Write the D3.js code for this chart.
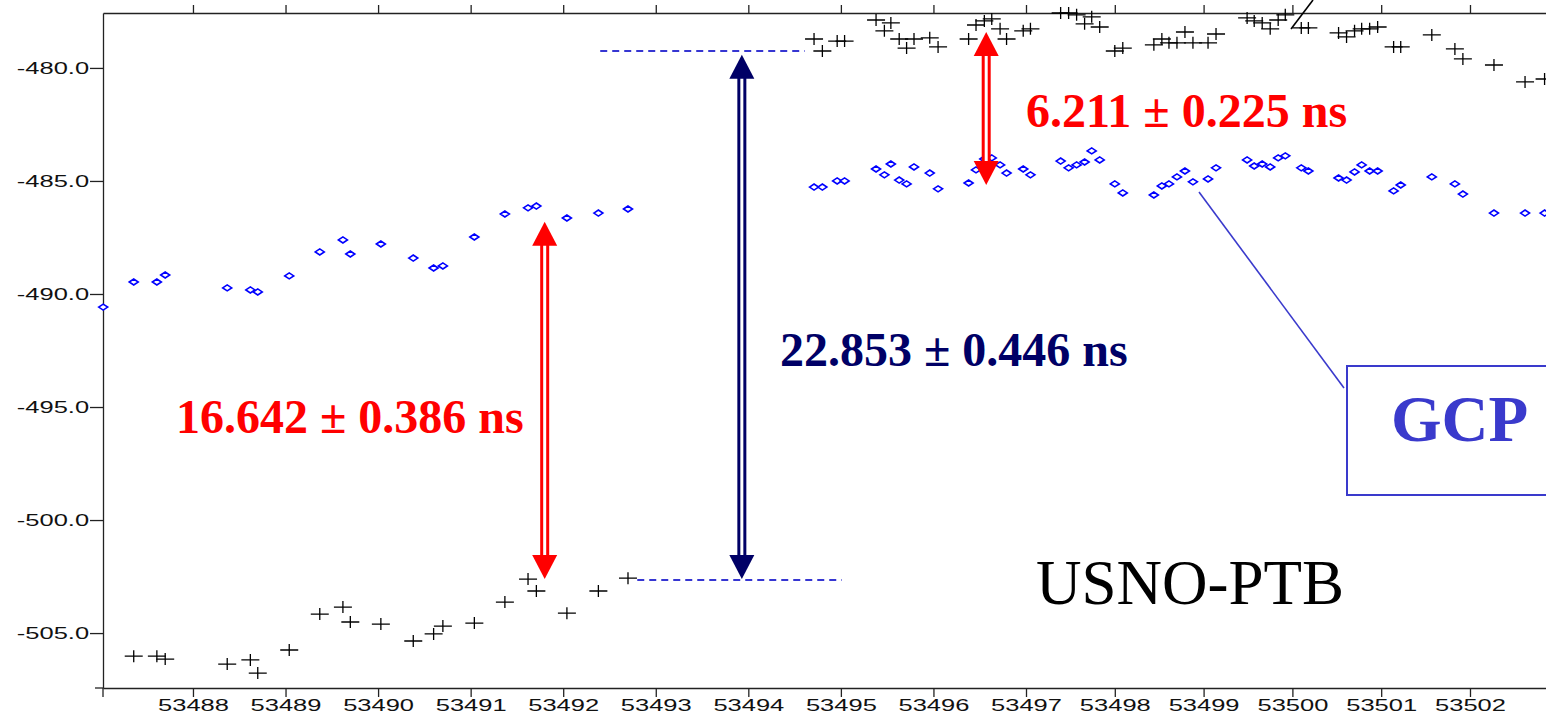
<!DOCTYPE html>
<html>
<head>
<meta charset="utf-8">
<script src="https://cdn.jsdelivr.net/npm/d3@7"></script>
<style>
body { margin: 0; background: #fff; }
</style>
</head>
<body>
<div id="my_dataviz"></div>
<script>

// MJD epochs (2 h sessions) and time differences in ns
var gcpMjd = [53487.03, 53487.36, 53487.61, 53487.70, 53488.37, 53488.62, 53488.70, 53489.04, 53489.37, 53489.62, 53489.70,
  53490.03, 53490.38, 53490.60, 53490.70, 53491.04, 53491.37, 53491.62, 53491.71, 53492.04, 53492.38, 53492.70,
  53494.71, 53494.80, 53494.96, 53495.04, 53495.38, 53495.47, 53495.54, 53495.63, 53495.71, 53495.79,
  53495.96, 53496.05, 53496.38, 53496.46, 53496.55, 53496.63, 53496.72, 53496.79, 53496.97, 53497.05,
  53497.39, 53497.48, 53497.57, 53497.66, 53497.74, 53497.83, 53498.00, 53498.09, 53498.44, 53498.53,
  53498.61, 53498.70, 53498.79, 53498.88, 53499.05, 53499.14, 53499.49, 53499.57, 53499.66, 53499.75,
  53499.84, 53499.92, 53500.10, 53500.18, 53500.52, 53500.61, 53500.70, 53500.78, 53500.87, 53500.96,
  53501.14, 53501.22, 53501.57, 53501.83, 53501.92, 53502.27, 53502.62, 53502.84];
var gcpVal = [-490.58, -489.47, -489.47, -489.16, -489.73, -489.82, -489.91, -489.20, -488.14, -487.61, -488.23,
  -487.79, -488.41, -488.85, -488.76, -487.48, -486.46, -486.19, -486.11, -486.64, -486.42, -486.24,
  -485.27, -485.27, -485.00, -485.00, -484.47, -484.73, -484.25, -484.96, -485.13, -484.38,
  -484.65, -485.35, -485.09, -484.51, -484.03, -483.98, -484.29, -484.65, -484.47, -484.73,
  -484.12, -484.42, -484.29, -484.16, -483.67, -484.07, -485.13, -485.53, -485.62, -485.22,
  -485.13, -484.82, -484.56, -485.04, -484.91, -484.42, -484.07, -484.34, -484.25, -484.38,
  -483.98, -483.89, -484.42, -484.56, -484.87, -484.96, -484.60, -484.29, -484.56, -484.56,
  -485.44, -485.18, -484.82, -485.13, -485.58, -486.42, -486.42, -486.42];

var usnoMjd = [53487.36, 53487.61, 53487.70, 53488.37, 53488.62, 53488.70, 53489.04, 53489.37, 53489.62, 53489.70,
  53490.03, 53490.38, 53490.60, 53490.70, 53491.04, 53491.37, 53491.62, 53491.71, 53492.04, 53492.38, 53492.70,
  53494.71, 53494.80, 53494.96, 53495.04, 53495.38, 53495.47, 53495.54, 53495.63, 53495.71, 53495.79,
  53495.96, 53496.05, 53496.38, 53496.46, 53496.55, 53496.63, 53496.72, 53496.79, 53496.97, 53497.05,
  53497.39, 53497.48, 53497.57, 53497.66, 53497.74, 53497.83, 53498.00, 53498.09, 53498.44, 53498.53,
  53498.61, 53498.70, 53498.79, 53498.88, 53499.05, 53499.14, 53499.49, 53499.57, 53499.66, 53499.75,
  53499.84, 53499.92, 53500.10, 53500.18, 53500.52, 53500.61, 53500.70, 53500.78, 53500.87, 53500.96,
  53501.14, 53501.22, 53501.57, 53501.83, 53501.92, 53502.27, 53502.62, 53502.84];
var usnoVal = [-506.02, -506.02, -506.15, -506.37, -506.19, -506.77, -505.75, -504.16, -503.85, -504.51,
  -504.60, -505.35, -505.04, -504.69, -504.56, -503.63, -502.61, -503.14, -504.12, -503.14, -502.57,
  -478.72, -479.25, -478.81, -478.81, -477.88, -478.36, -478.01, -478.72, -479.12, -478.72,
  -478.67, -479.07, -478.72, -478.10, -477.92, -477.83, -478.27, -478.72, -478.36, -478.27,
  -477.57, -477.57, -477.65, -478.05, -477.74, -478.19, -479.25, -479.12, -478.98, -478.72,
  -478.89, -478.89, -478.41, -478.89, -478.89, -478.50, -477.79, -477.92, -478.01, -478.27,
  -477.88, -477.65, -478.23, -478.23, -478.45, -478.63, -478.36, -478.27, -478.27, -478.19,
  -479.07, -479.07, -478.54, -479.16, -479.60, -479.87, -480.62, -480.49];

var xTicks = [53488, 53489, 53490, 53491, 53492, 53493, 53494, 53495, 53496, 53497, 53498, 53499, 53500, 53501, 53502];
var yTicks = [-505, -500, -495, -490, -485, -480];

// offset levels (dashed) and arrows: [mjd, top, bottom]
var levelLines = [[53492.40, 53494.61, -479.25], [53492.80, 53495.01, -502.65]];
var arrows = [
  {mjd: 53491.80, top: -486.81, bottom: -502.61, color: "#ff0000", label: "16.642 \u00b1 0.386 ns"},
  {mjd: 53493.93, top: -479.42, bottom: -502.61, color: "#000066", label: "22.853 \u00b1 0.446 ns"},
  {mjd: 53496.57, top: -478.41, bottom: -485.18, color: "#ff0000", label: "6.211 \u00b1 0.225 ns"}
];

var width = 1546, height = 715;

var svg = d3.select("#my_dataviz")
  .append("svg")
    .attr("width", width)
    .attr("height", height)
    .style("display", "block")
    .style("background", "#fff");

// X axis (the slide image is slightly uneven, so a polylinear scale)
var x = d3.scaleLinear()
  .domain([53487.028, 53497, 53502.856])
  .range([103, 1026, 1546]);

// Y axis
var y = d3.scaleLinear()
  .domain([-507.43, -477.57])
  .range([688, 13]);

var plotTop = y.range()[1], plotBottom = y.range()[0];

var xAxis = svg.append("g")
  .attr("transform", "translate(0," + plotBottom + ")")
  .call(d3.axisBottom(x).tickValues(xTicks).tickSize(9).tickSizeOuter(0).tickPadding(2)
    .tickFormat(function(d) { return d; }));

var topAxis = svg.append("g")
  .attr("transform", "translate(0," + plotTop + ")")
  .call(d3.axisTop(x).tickValues(xTicks).tickSize(8).tickSizeOuter(0).tickFormat(""));

var yAxis = svg.append("g")
  .attr("transform", "translate(" + x.range()[0] + ",0)")
  .call(d3.axisLeft(y).tickValues(yTicks).tickSize(13).tickSizeOuter(0)
    .tickFormat(function(d) { return d.toFixed(1); }));

svg.selectAll(".domain").attr("stroke", "#222").attr("stroke-width", 1.3);
svg.selectAll(".tick line").attr("stroke", "#222").attr("stroke-width", 1.3);
svg.selectAll(".tick text")
  .attr("font-family", "'Liberation Sans', Arial, sans-serif")
  .attr("font-size", 17)
  .attr("fill", "#111")
  .attr("transform", "scale(1.5,1)");
yAxis.selectAll(".tick text").attr("x", -9.3);

// little axis stubs at the lower left corner
svg.append("line")
  .attr("x1", x.range()[0] - 8).attr("x2", x.range()[0])
  .attr("y1", plotBottom).attr("y2", plotBottom)
  .attr("stroke", "#222").attr("stroke-width", 1.3);
svg.append("line")
  .attr("x1", x.range()[0]).attr("x2", x.range()[0])
  .attr("y1", plotBottom).attr("y2", plotBottom + 9)
  .attr("stroke", "#222").attr("stroke-width", 1.3);

// dashed reference levels
svg.selectAll(".level")
  .data(levelLines)
  .enter()
  .append("line")
    .attr("x1", function(d) { return x(d[0]); })
    .attr("x2", function(d) { return x(d[1]); })
    .attr("y1", function(d) { return y(d[2]); })
    .attr("y2", function(d) { return y(d[2]); })
    .attr("stroke", "#3636d2")
    .attr("stroke-width", 2)
    .attr("stroke-dasharray", "7,5");

// USNO-PTB crosses
var usno = usnoMjd.map(function(d, i) { return {mjd: d, val: usnoVal[i]}; });
svg.selectAll(".cross")
  .data(usno)
  .enter()
  .append("path")
    .attr("d", function(d) {
      var cx = x(d.mjd), cy = y(d.val);
      return "M" + (cx - 9) + "," + cy + "H" + (cx + 9) + "M" + cx + "," + (cy - 6) + "V" + (cy + 6);
    })
    .attr("stroke", "#000")
    .attr("stroke-width", 1.3)
    .attr("fill", "none");

// GCP diamonds
var gcp = gcpMjd.map(function(d, i) { return {mjd: d, val: gcpVal[i]}; });
svg.selectAll(".diamond")
  .data(gcp)
  .enter()
  .append("path")
    .attr("d", function(d) {
      var cx = x(d.mjd), cy = y(d.val);
      return "M" + (cx - 4.5) + "," + cy + "L" + cx + "," + (cy - 3) + "L" + (cx + 4.5) + "," + cy + "L" + cx + "," + (cy + 3) + "Z";
    })
    .attr("stroke", "#0000ff")
    .attr("stroke-width", 1.6)
    .attr("fill", "#fff");

// double shafted arrows
arrows.forEach(function(a) {
  var cx = x(a.mjd), yt = y(a.top), yb = y(a.bottom);
  var g = svg.append("g");
  g.append("rect")
    .attr("x", cx - 4.5).attr("width", 9)
    .attr("y", yt + 20).attr("height", yb - yt - 40)
    .attr("fill", a.color);
  g.append("rect")
    .attr("x", cx - 1.5).attr("width", 3)
    .attr("y", yt + 22).attr("height", yb - yt - 44)
    .attr("fill", "#fff");
  g.append("path")
    .attr("d", "M" + cx + "," + yt + "L" + (cx + 12.5) + "," + (yt + 24) + "L" + (cx - 12.5) + "," + (yt + 24) + "Z")
    .attr("fill", a.color);
  g.append("path")
    .attr("d", "M" + cx + "," + yb + "L" + (cx + 12.5) + "," + (yb - 24) + "L" + (cx - 12.5) + "," + (yb - 24) + "Z")
    .attr("fill", a.color);
});

// pointer lines
svg.append("line")
  .attr("x1", 1199).attr("y1", 192).attr("x2", 1344).attr("y2", 388)
  .attr("stroke", "#3a3acc").attr("stroke-width", 1.6);
svg.append("line")
  .attr("x1", 1291).attr("y1", 29).attr("x2", 1313).attr("y2", 0)
  .attr("stroke", "#000").attr("stroke-width", 1.6);

// labels
var serif = "'Liberation Serif', 'Times New Roman', serif";
var labelPos = [[176, 433], [780, 366], [1026, 127]];
svg.selectAll(".lbl")
  .data(arrows)
  .enter()
  .append("text")
    .attr("x", function(d, i) { return labelPos[i][0]; })
    .attr("y", function(d, i) { return labelPos[i][1]; })
    .attr("font-family", serif)
    .attr("font-weight", "bold")
    .attr("font-size", 48)
    .attr("fill", function(d) { return d.color; })
    .text(function(d) { return d.label; });

svg.append("text")
  .attr("x", 1036).attr("y", 604)
  .attr("font-family", serif)
  .attr("font-size", 63)
  .attr("fill", "#000")
  .text("USNO-PTB");

svg.append("rect")
  .attr("x", 1347).attr("y", 366)
  .attr("width", 240).attr("height", 129)
  .attr("fill", "none")
  .attr("stroke", "#3a3acc")
  .attr("stroke-width", 2);

svg.append("text")
  .attr("x", 1391).attr("y", 441)
  .attr("font-family", serif)
  .attr("font-weight", "bold")
  .attr("font-size", 65)
  .attr("fill", "#3a3acc")
  .text("GCP");

</script>
</body>
</html>
